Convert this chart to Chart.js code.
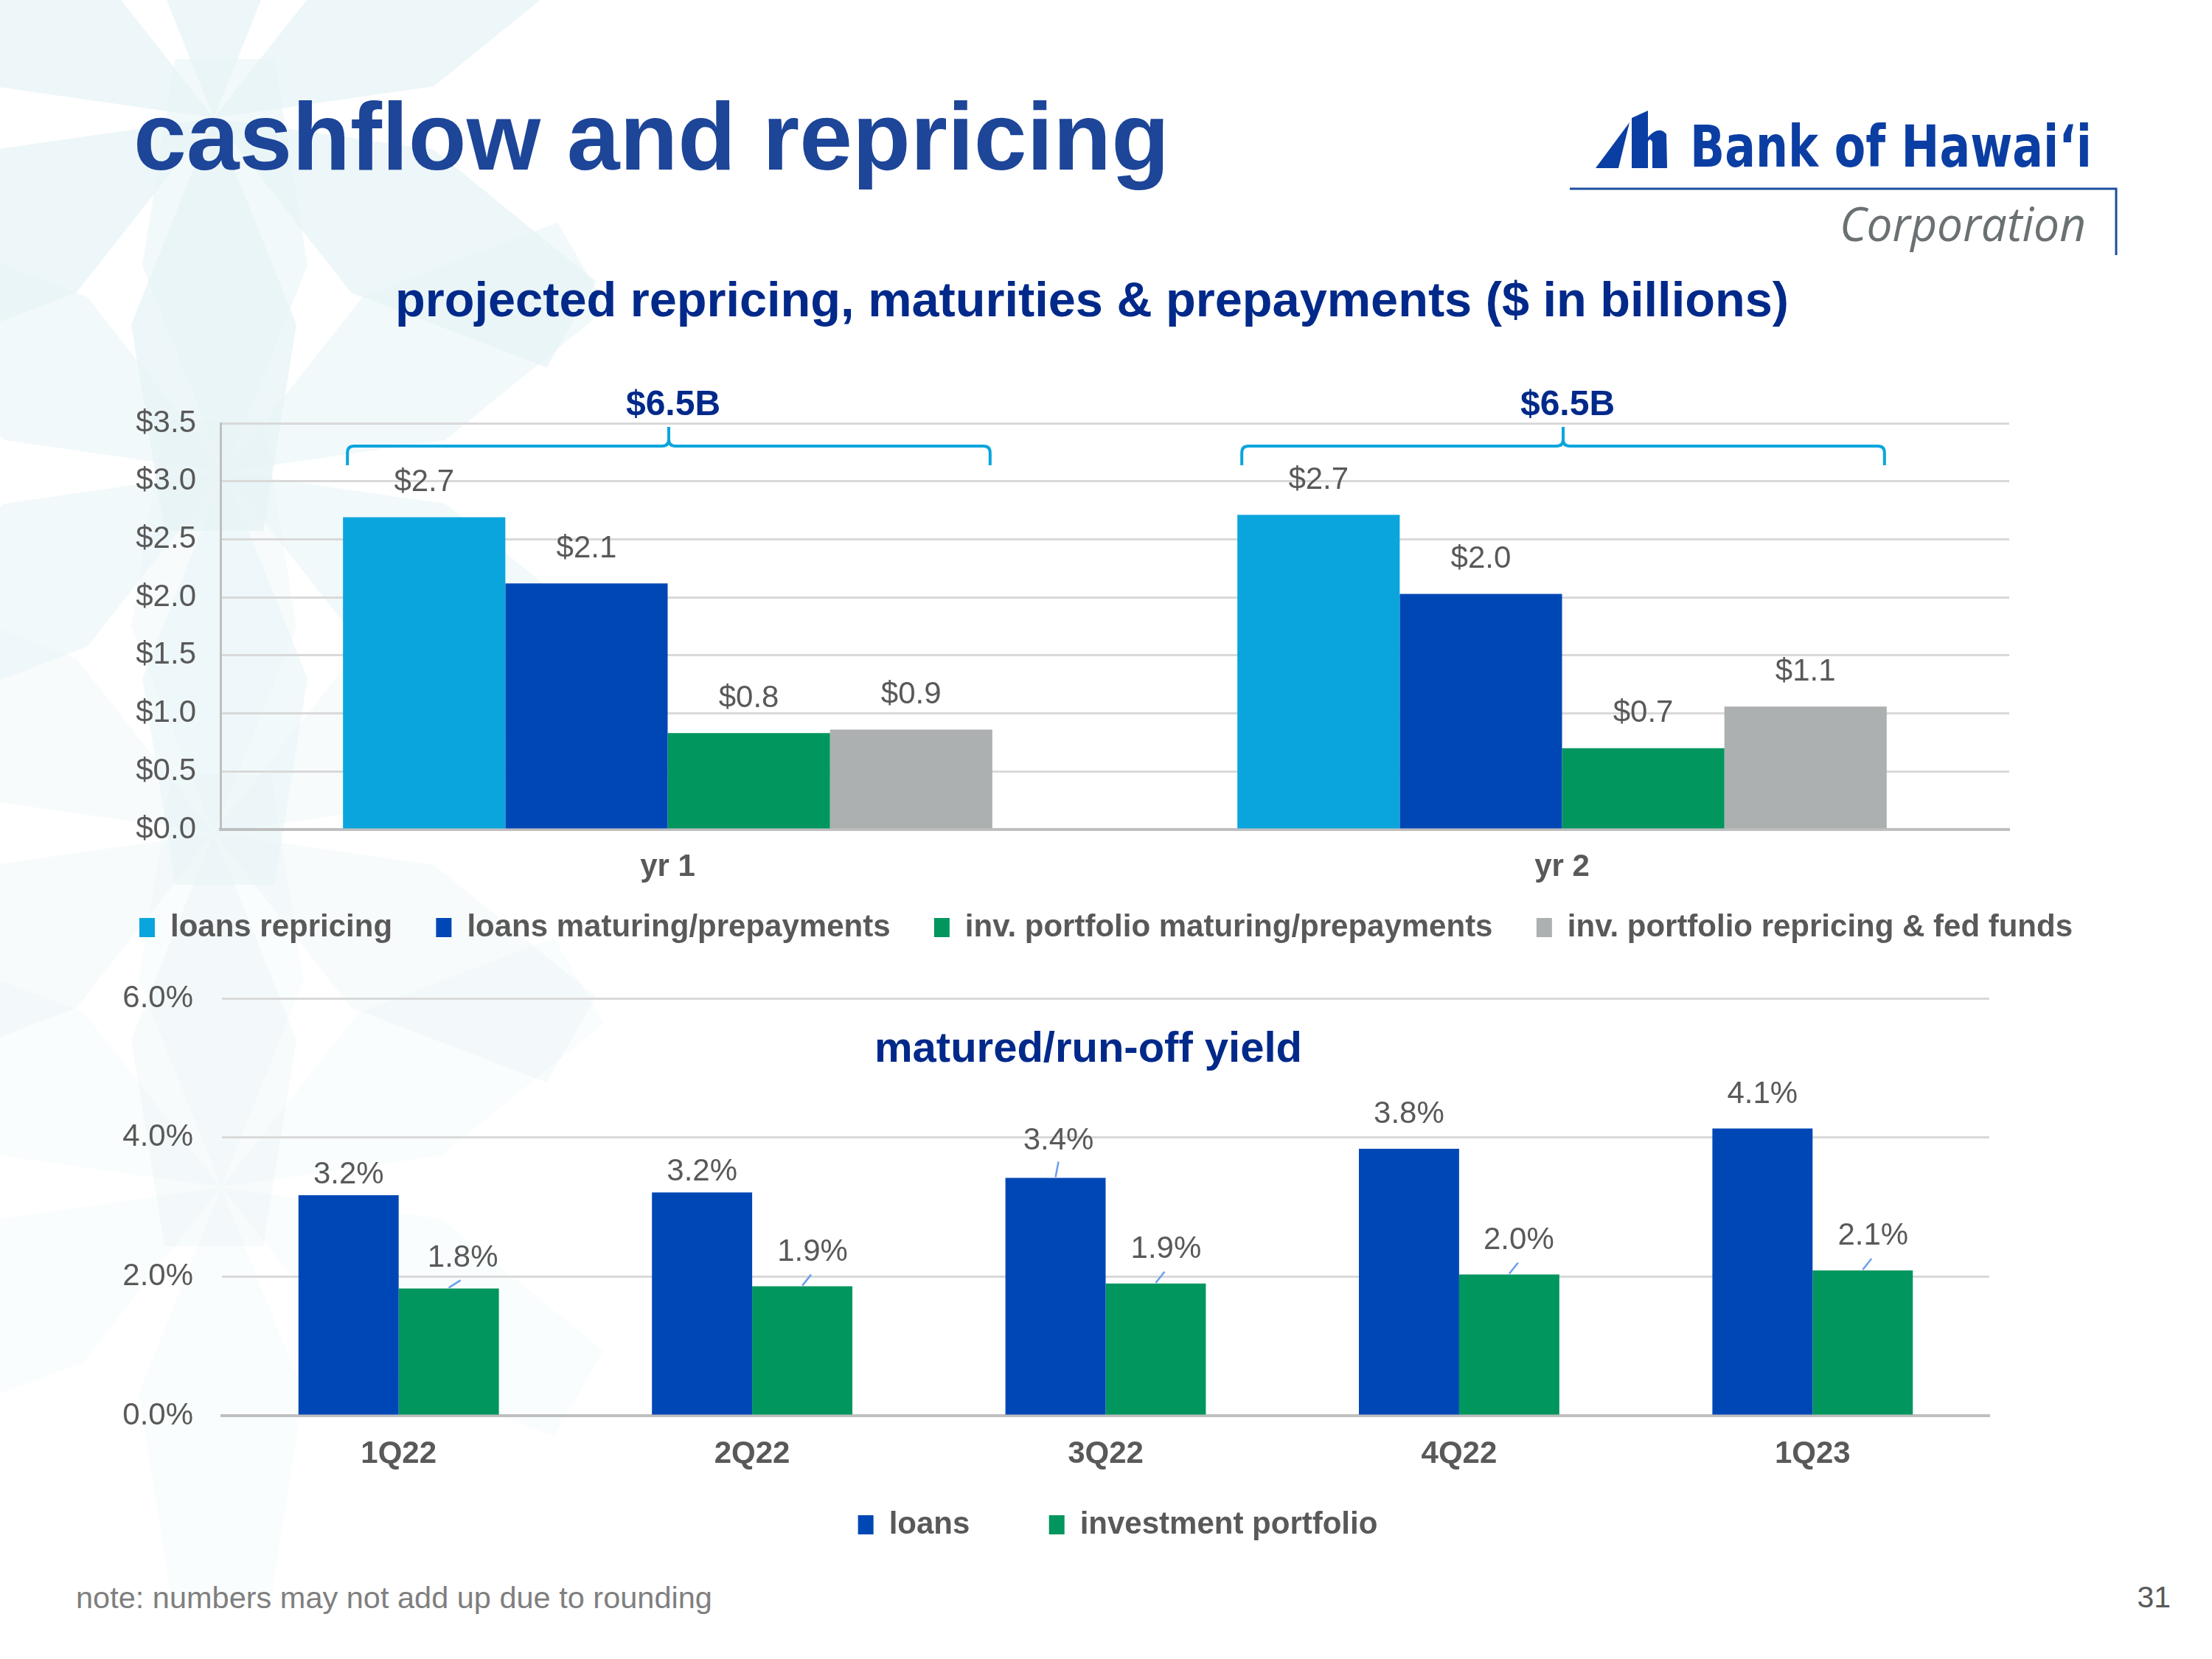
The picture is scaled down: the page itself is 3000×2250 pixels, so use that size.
<!DOCTYPE html>
<html>
<head>
<meta charset="utf-8">
<title>cashflow and repricing</title>
<script src="https://cdn.jsdelivr.net/npm/chart.js@4.4.1/dist/chart.umd.min.js"></script>
<style>
  html, body { margin: 0; padding: 0; background: #fff; }
  #page { position: relative; width: 3000px; height: 2250px; overflow: hidden; font-family: "Liberation Sans", Arial, sans-serif; }
  #page > * { position: absolute; }
  #deco { left: 0; top: 0; }
  canvas { display: block; }
  #title { left: 181px; top: 121px; font-size: 129px; line-height: 129px; font-weight: bold; color: #1d4598; white-space: nowrap; }
  #subtitle { left: 1481px; top: 373px; transform: translateX(-50%); font-size: 66.7px; line-height: 67px; font-weight: bold; color: #00298a; white-space: nowrap; }
  #yieldTitle { left: 1476px; top: 1391px; transform: translateX(-50%); font-size: 58px; line-height: 58px; font-weight: bold; color: #00298a; white-space: nowrap; }
  #bankName { left: 2292px; top: 160px; font-family: "DejaVu Sans", sans-serif; font-size: 78px; line-height: 78px; font-weight: bold; color: #0b3ea3; white-space: nowrap; transform-origin: 0 0; }
  #corp { left: 2495px; top: 271px; font-family: "Open Sans", sans-serif; font-style: italic; font-size: 64px; line-height: 64px; color: #6b7173; white-space: nowrap; transform-origin: 0 0; }
  #note { left: 103px; top: 2146px; font-size: 41.5px; line-height: 41.5px; color: #7f7f7f; white-space: nowrap; }
  #pageNo { right: 56px; top: 2146px; font-size: 41px; line-height: 41px; color: #595959; }
  #topWrap { left: 0; top: 480px; }
  #botWrap { left: 16px; top: 1290px; }
</style>
</head>
<body>
<div id="page">
  <svg id="deco" width="3000" height="2250" xmlns="http://www.w3.org/2000/svg">
    <g id="stars"></g>
    <polygon points="2164,228 2195,228 2210,166" fill="#0b3ea3"/>
    <path d="M2213,228 L2213,160 L2235,150 L2235,186 Q2250,170 2260,182 L2261,228 L2241,228 L2241,193 Q2238,186 2235,192 L2235,228 Z" fill="#0b3ea3"/>
    <polyline points="2129,256 2870,256 2870,346" fill="none" stroke="#1d4ea0" stroke-width="3"/>
  </svg>

  <div id="title">cashflow and repricing</div>
  <div id="bankName">Bank of Hawaiʻi</div>
  <div id="corp">Corporation</div>
  <div id="subtitle">projected repricing, maturities &amp; prepayments ($ in billions)</div>

  <div id="topWrap"><canvas id="repricingChart" width="3000" height="809"></canvas></div>
  <div id="botWrap"><canvas id="yieldChart" width="3000" height="809"></canvas></div>

  <div id="yieldTitle">matured/run-off yield</div>
  <div id="note">note: numbers may not add up due to rounding</div>
  <div id="pageNo">31</div>
</div>

<script>
const family = '"Liberation Sans", Arial, sans-serif'
Chart.defaults.font.family = family
Chart.defaults.color = '#595959'
Chart.defaults.animation = false

// projected repricing, $ billions
const periods = ['yr 1', 'yr 2']
const loansRepricing = [2.69, 2.71]
const loansMaturing = [2.12, 2.03]
const invMaturing = [0.83, 0.70]
const invRepricing = [0.86, 1.06]
const dollarTicks = ['$0.0', '$0.5', '$1.0', '$1.5', '$2.0', '$2.5', '$3.0', '$3.5']

// matured / run-off yield, %
const quarters = ['1Q22', '2Q22', '3Q22', '4Q22', '1Q23']
const loansYield = [3.17, 3.21, 3.42, 3.84, 4.13]
const portfolioYield = [1.83, 1.86, 1.90, 2.03, 2.09]
const percentTicks = ['0.0%', '2.0%', '4.0%', '6.0%']

// faint star pattern on the left of the slide
const stars = document.getElementById('stars')
;[[290, 160, 0.8], [305, 640, 0.55], [290, 1130, 0.35], [300, 1610, 0.2]].forEach(([cx, cy, op]) => {
  for (let k = 0; k < 6; k++) {
    const L = 560
    const pts = [[0, 0], [0.5 * L, -0.2 * L], [L, -0.12 * L], [L, 0.12 * L], [0.5 * L, 0.2 * L]]
    const p = document.createElementNS('http://www.w3.org/2000/svg', 'polygon')
    p.setAttribute('points', pts.map(q => q.join(',')).join(' '))
    p.setAttribute('fill', '#e8f4f6')
    p.setAttribute('opacity', op)
    p.setAttribute('transform', `translate(${cx},${cy}) rotate(${k * 60 + 30})`)
    stars.appendChild(p)
  }
})

function fitWidth(id, w) {
  const el = document.getElementById(id)
  el.style.transform = ''
  const r = el.getBoundingClientRect().width
  el.style.transform = `scaleX(${w / r})`
}
fitWidth('bankName', 545)
fitWidth('corp', 334)

// numbers above the bars, with optional leader lines
function barLabels(id, fmt, lift, shift, leaders) {
  return {
    id,
    afterDatasetsDraw(chart) {
      const ctx = chart.ctx
      ctx.save()
      ctx.font = `42px ${family}`
      ctx.fillStyle = '#595959'
      ctx.textAlign = 'center'
      ctx.textBaseline = 'middle'
      chart.data.datasets.forEach((ds, d) => {
        chart.getDatasetMeta(d).data.forEach((bar, i) => {
          const lead = leaders && leaders[d][i]
          if (lead) {
            ctx.strokeStyle = '#6d9eeb'
            ctx.lineWidth = 2.5
            ctx.beginPath()
            ctx.moveTo(bar.x, bar.y - 1)
            ctx.lineTo(bar.x + lead[0], bar.y - lead[1])
            ctx.stroke()
          }
          ctx.fillText(fmt(ds.data[i]), bar.x + shift[d][i], bar.y - lift[d][i])
        })
      })
      ctx.restore()
    },
  }
}

// curly braces with the group totals
const braces = {
  id: 'braces',
  afterDatasetsDraw(chart) {
    const { ctx, scales: { y } } = chart
    const metas = chart.data.datasets.map((_, d) => chart.getDatasetMeta(d).data)
    const top = y.getPixelForValue(y.max)
    periods.forEach((p, i) => {
      const a = metas[0][i], b = metas[metas.length - 1][i]
      const x0 = a.x - a.width / 2 + 6, x1 = b.x + b.width / 2 - 3
      const xm = (x0 + x1) / 2
      const yTip = top + 5, yBar = top + 31, yEnd = top + 57, r = 9
      ctx.save()
      ctx.strokeStyle = '#0aa5dd'
      ctx.lineWidth = 4
      ctx.beginPath()
      ctx.moveTo(x0, yEnd)
      ctx.lineTo(x0, yBar + r)
      ctx.quadraticCurveTo(x0, yBar, x0 + r, yBar)
      ctx.lineTo(xm - r, yBar)
      ctx.quadraticCurveTo(xm, yBar, xm, yBar - r)
      ctx.lineTo(xm, yTip)
      ctx.moveTo(xm, yBar - r)
      ctx.quadraticCurveTo(xm, yBar, xm + r, yBar)
      ctx.lineTo(x1 - r, yBar)
      ctx.quadraticCurveTo(x1, yBar, x1, yBar + r)
      ctx.lineTo(x1, yEnd)
      ctx.stroke()
      const total = chart.data.datasets.reduce((s, ds) => s + ds.data[i], 0)
      ctx.fillStyle = '#00298a'
      ctx.font = `bold 48px ${family}`
      ctx.textAlign = 'center'
      ctx.textBaseline = 'middle'
      ctx.fillText('$' + total.toFixed(1) + 'B', xm + 6, top - 24)
      ctx.restore()
    })
  },
}

// legend: chart.js puts the same padding around and between items,
// so the wider gaps of the slide come from trailing spaces
const legendLabels = (padding, spaces) => ({
  boxWidth: 21,
  boxHeight: 26,
  padding,
  color: '#595959',
  font: { size: 42, weight: 'bold' },
  generateLabels: (chart) => {
    const items = Chart.defaults.plugins.legend.labels.generateLabels(chart)
    return items.map((it, i) => ({ ...it, text: i < items.length - 1 ? it.text + spaces : it.text }))
  },
})

// empty right-hand axis that reserves the space right of the plot
const rightGap = (w) => ({
  type: 'linear',
  position: 'right',
  grid: { display: false, drawTicks: false },
  ticks: { display: false },
  border: { display: false },
  afterFit: (s) => { s.width = w },
})

new Chart(document.getElementById('repricingChart'), {
  type: 'bar',
  data: {
    labels: periods,
    datasets: [
      { label: 'loans repricing', data: loansRepricing, backgroundColor: '#0aa5dd' },
      { label: 'loans maturing/prepayments', data: loansMaturing, backgroundColor: '#0047b6' },
      { label: 'inv. portfolio maturing/prepayments', data: invMaturing, backgroundColor: '#00965e' },
      { label: 'inv. portfolio repricing & fed funds', data: invRepricing, backgroundColor: '#adb0b0' },
    ],
  },
  options: {
    responsive: false,
    layout: { padding: { top: 94, right: 0, left: 0, bottom: 0 } },
    datasets: { bar: { barPercentage: 1, categoryPercentage: 0.726, borderWidth: 0 } },
    scales: {
      x: {
        grid: { display: false, drawTicks: false },
        border: { display: true, color: '#bfbfbf', width: 4 },
        ticks: { padding: 30, color: '#595959', font: { size: 42, weight: 'bold', lineHeight: 1 } },
        afterFit: (s) => { s.height = 76 },
      },
      y: {
        min: 0,
        max: 3.5,
        ticks: { stepSize: 0.5, padding: 33, color: '#595959', font: { size: 42 }, callback: (v, i) => dollarTicks[i] },
        grid: { color: '#d9d9d9', lineWidth: 3, drawTicks: false },
        border: { display: true, color: '#bfbfbf', width: 3 },
        afterFit: (s) => { s.width = 299 },
      },
      pad: rightGap(275),
    },
    plugins: {
      legend: { position: 'bottom', labels: legendLabels(36, '  ') },
      tooltip: { enabled: false },
    },
  },
  plugins: [
    braces,
    barLabels('repricingLabels', (v) => '$' + v.toFixed(1),
      [[47, 47], [47, 47], [47, 47], [47, 47]],
      [[0, 0], [0, 0], [0, 0], [0, 0]]),
  ],
})

// this canvas sits 16px right of the page edge, so its axes are 16px narrower
new Chart(document.getElementById('yieldChart'), {
  type: 'bar',
  data: {
    labels: quarters,
    datasets: [
      { label: 'loans', data: loansYield, backgroundColor: '#0047b6' },
      { label: 'investment portfolio', data: portfolioYield, backgroundColor: '#00965e' },
    ],
  },
  options: {
    responsive: false,
    layout: { padding: { top: 62, right: 0, left: 0, bottom: 0 } },
    datasets: { bar: { barPercentage: 1, categoryPercentage: 0.567, borderWidth: 0 } },
    scales: {
      x: {
        grid: { display: false, drawTicks: false },
        border: { display: true, color: '#bfbfbf', width: 4 },
        ticks: { padding: 31, color: '#595959', font: { size: 42, weight: 'bold', lineHeight: 1 } },
        afterFit: (s) => { s.height = 78 },
      },
      y: {
        min: 0,
        max: 6,
        ticks: { stepSize: 2, padding: 39, color: '#595959', font: { size: 42 }, callback: (v, i) => percentTicks[i] },
        grid: { color: '#d9d9d9', lineWidth: 3, drawTicks: false },
        border: { display: false },
        afterFit: (s) => { s.width = 285 },
      },
      pad: rightGap(318),
    },
    plugins: {
      legend: { position: 'bottom', labels: legendLabels(49, '     ') },
      tooltip: { enabled: false },
    },
  },
  plugins: [
    barLabels('yieldLabels', (v) => v.toFixed(1) + '%',
      [[28, 28, 50, 46, 46], [41, 46, 46, 46, 46]],
      [[0, 0, 4, 0, 0], [19, 14, 14, 13, 14]],
      [[null, null, [4, 22], null, null], [[16, 11], [12, 16], [12, 16], [12, 16], [12, 16]]]),
  ],
})
</script>
</body>
</html>
